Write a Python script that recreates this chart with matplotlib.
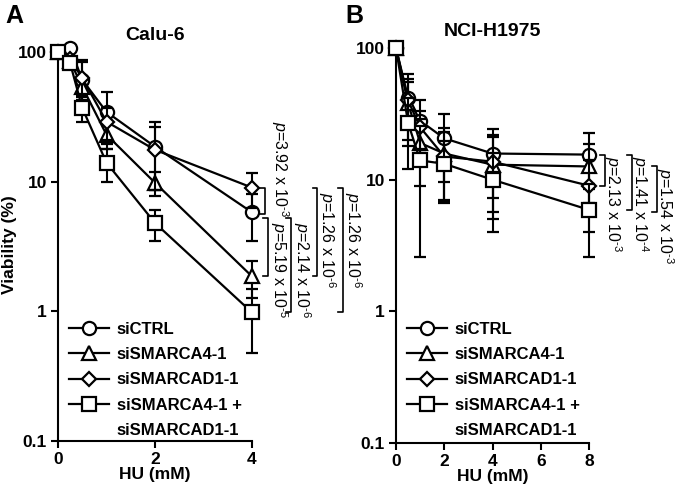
"""
    Viability vs HU, two cell lines
"""
import matplotlib
matplotlib.use("Agg")
from matplotlib import pyplot as plt
from matplotlib.lines import Line2D

plt.rcParams['font.family'] = ['Liberation Sans', 'DejaVu Sans']
plt.rcParams['mathtext.fontset'] = 'custom'
plt.rcParams['mathtext.rm'] = 'Liberation Sans'
plt.rcParams['mathtext.it'] = 'Liberation Sans:italic'

labels = ["siCTRL", "siSMARCA4-1", "siSMARCAD1-1", "siSMARCA4-1 +\nsiSMARCAD1-1"]
markers = ["o", "^", "D", "s"]
msizes = [9.5, 10, 6.8, 10.5]

# Calu-6
hu_a = [0, 0.25, 0.5, 1, 2, 4]
ctrl_a = [100, 108, 61, 34.5, 18.6, 5.8]
a4_a = [100, 85, 54, 23, 9.8, 1.86]
ad1_a = [100, 88, 63, 29, 17.6, 9.0]
both_a = [100, 82, 37, 14, 4.8, 0.98]
ctrl_a_err = [0, 4, 25, 15, 10, 2.3]
a4_a_err = [0, 4, 8, 5, 2, 0.6]
ad1_a_err = [0, 4, 20, 8, 9, 2.7]
both_a_err = [0, 4, 8, 4, 1.3, 0.5]

# NCI-H1975
hu_b = [0, 0.5, 1, 2, 4, 8]
ctrl_b = [100, 42, 28, 20.6, 15.8, 15.5]
a4_b = [100, 38, 19, 15.8, 13, 12.6]
ad1_b = [100, 40, 25, 15, 13.7, 9.0]
both_b = [100, 27, 14, 13.2, 10, 5.9]
ctrl_b_err = [0, 22, 12, 11, 8.5, 7]
a4_b_err = [0, 20, 10, 9, 8, 6]
ad1_b_err = [0, 15, 8, 8, 8, 5]
both_b_err = [0, 15, 11.4, 6.6, 6, 3.3]

fig = plt.figure(figsize=(6.78, 4.88), dpi=100)
ax1 = fig.add_axes([58 / 678, 47 / 488, 194 / 678, 389 / 488])
ax2 = fig.add_axes([396 / 678, 45 / 488, 193 / 678, 395 / 488])


def draw(ax, x, series, errs):
    handles = []
    for i, (y, e) in enumerate(zip(series, errs)):
        h = ax.errorbar(x, y, yerr=e, color="black", lw=1.6, elinewidth=1.5,
                        capsize=4, capthick=1.5, marker=markers[i], ms=msizes[i],
                        mfc="white", mec="black", mew=1.6,
                        clip_on=False, zorder=3 + i)
        handles.append(h[0])
    ax.set_yscale("log")
    ax.set_ylim(0.1, 100)
    ax.set_yticks([0.1, 1, 10, 100])
    ax.set_yticklabels(["0.1", "1", "10", "100"])
    ax.minorticks_off()
    ax.spines["top"].set_visible(False)
    ax.spines["right"].set_visible(False)
    for s in ["left", "bottom"]:
        ax.spines[s].set_linewidth(1.5)
    ax.tick_params(width=1.5, length=5, labelsize=12.5, pad=3)
    for t in ax.get_xticklabels() + ax.get_yticklabels():
        t.set_fontweight("bold")
    ax.set_xlabel("HU (mM)", fontsize=12.5, fontweight="bold", labelpad=0)
    # last label spans two lines: marker sits on the first line
    labs = labels[:-1] + labels[-1].split("\n")
    handles = handles + [Line2D([], [], linestyle="none")]
    ax.legend(handles, labs, loc="upper left", bbox_to_anchor=(-0.02, 0.345),
              frameon=False, handlelength=2.4, handletextpad=0.45,
              labelspacing=0.62, prop={"size": 12, "weight": "bold"})


def bracket(ax, x, y1, y2, w):
    ax.plot([x - w, x, x, x - w], [y1, y1, y2, y2], color="black", lw=1.2,
            clip_on=False)


def ptext(ax, x, y, s, va="top"):
    ax.text(x, y, s, rotation=-90, ha="center", va=va, fontsize=11.5,
            clip_on=False)


def pstr(mant, expo):
    return "$p$=" + mant + " x 10$^{\\text{-}" + expo + "}$"


draw(ax1, hu_a, [ctrl_a, a4_a, ad1_a, both_a],
     [ctrl_a_err, a4_a_err, ad1_a_err, both_a_err])
ax1.set_xlim(0, 4)
ax1.set_xticks([0, 2, 4])
ax1.set_title("Calu-6", fontsize=14, fontweight="bold", pad=9)

draw(ax2, hu_b, [ctrl_b, a4_b, ad1_b, both_b],
     [ctrl_b_err, a4_b_err, ad1_b_err, both_b_err])
ax2.set_xlim(0, 8)
ax2.set_xticks([0, 2, 4, 6, 8])
ax2.set_title("NCI-H1975", fontsize=14, fontweight="bold", pad=9)

fig.text(10 / 678, 1 - 245 / 488, "Viability (%)", rotation=90, fontsize=12.5,
         fontweight="bold", ha="center", va="center")

# p-values, Calu-6 at 4 mM
bracket(ax1, 4.27, ad1_a[-1], ctrl_a[-1] * 0.97, 0.1)
ptext(ax1, 4.58, ctrl_a[-1] * 0.92, pstr("3.92", "3"), va="bottom")
bracket(ax1, 4.33, ctrl_a[-1] * 0.9, a4_a[-1], 0.1)
ptext(ax1, 4.55, ctrl_a[-1] * 0.84, pstr("5.19", "5"))
bracket(ax1, 4.8, ctrl_a[-1] * 0.9, both_a[-1], 0.1)
ptext(ax1, 5.02, ctrl_a[-1] * 0.84, pstr("2.14", "6"))
bracket(ax1, 5.35, ad1_a[-1], a4_a[-1], 0.1)
ptext(ax1, 5.55, ad1_a[-1] * 0.92, pstr("1.26", "6"))
bracket(ax1, 5.87, ad1_a[-1], both_a[-1], 0.1)
ptext(ax1, 6.08, ad1_a[-1] * 0.92, pstr("1.26", "6"))

# p-values, NCI-H1975 at 8 mM
bracket(ax2, 8.67, ctrl_b[-1], ad1_b[-1], 0.2)
ptext(ax2, 9.0, ctrl_b[-1] * 0.97, pstr("2.13", "3"))
bracket(ax2, 9.79, ctrl_b[-1], both_b[-1], 0.2)
ptext(ax2, 10.12, ctrl_b[-1] * 0.97, pstr("1.41", "4"))
bracket(ax2, 10.83, a4_b[-1], both_b[-1] * 0.97, 0.2)
ptext(ax2, 11.16, a4_b[-1] * 0.97, pstr("1.54", "3"))

fig.text(5 / 678, 1 - 16 / 488, "A", fontsize=18, fontweight="bold", va="center")
fig.text(345 / 678, 1 - 16 / 488, "B", fontsize=18, fontweight="bold", va="center")

plt.savefig("out.png", dpi=100)
